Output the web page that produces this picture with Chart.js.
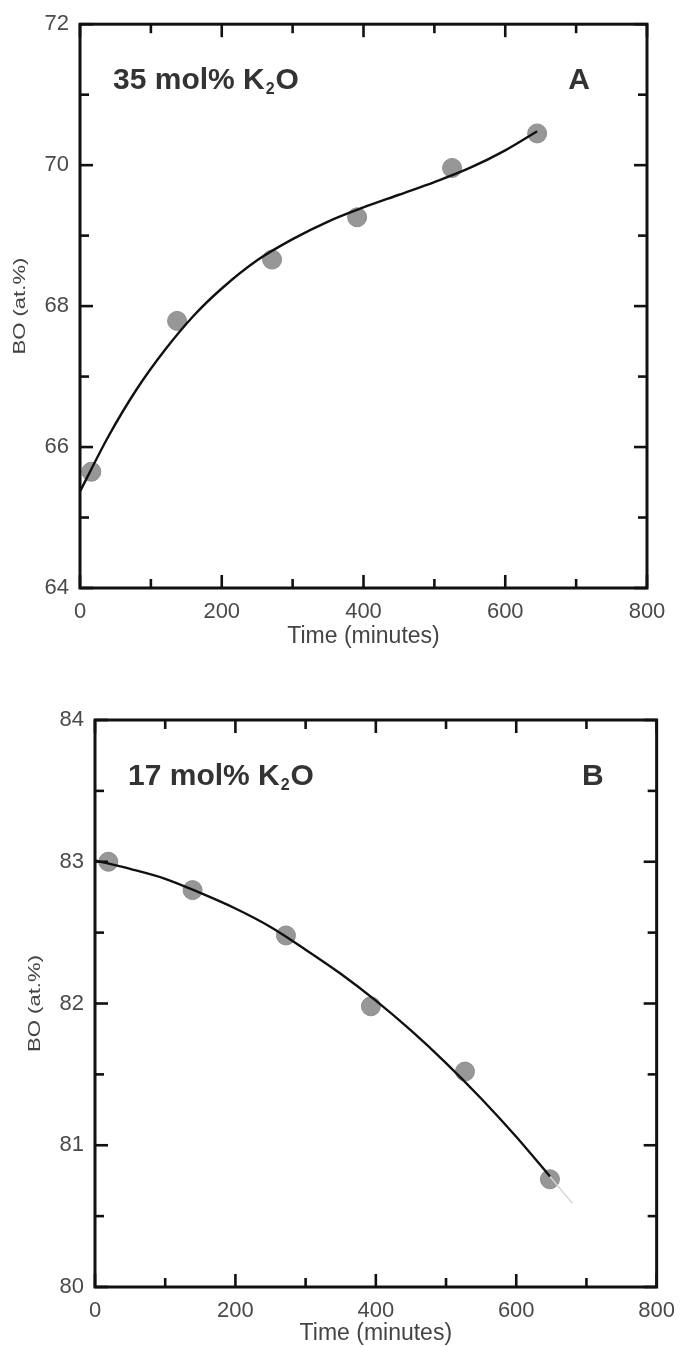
<!DOCTYPE html>
<html><head><meta charset="utf-8">
<script src="https://cdn.jsdelivr.net/npm/chart.js@4.4.1/dist/chart.umd.min.js"></script>
<style>
html,body{margin:0;padding:0;background:#fff;width:686px;height:1347px;overflow:hidden}
.box{position:absolute;left:0;width:686px}
</style></head><body>
<div class="box" style="top:0;height:660px"><canvas id="cA"></canvas></div>
<div class="box" style="top:690px;height:657px"><canvas id="cB"></canvas></div>
<script>
// ---- data ----
const timeTickLabels = [0, 200, 400, 600, 800];
const yTickLabelsA = [64, 66, 68, 70, 72];
const yTickLabelsB = [80, 81, 82, 83, 84];

const timeA = [16, 137, 271, 391, 525, 645];
const boA   = [65.65, 67.79, 68.66, 69.26, 69.96, 70.45];
const fitTimeA = [0, 40, 80, 120, 160, 200, 250, 300, 350, 400, 450, 500, 550, 600, 645];
const fitBoA   = [65.37, 66.15, 66.82, 67.38, 67.86, 68.25, 68.65, 68.95, 69.20, 69.40, 69.58, 69.76, 69.96, 70.21, 70.48];

const timeB = [19, 139, 272, 393, 527, 648];
const boB   = [83.00, 82.80, 82.48, 81.98, 81.52, 80.76];
const fitTimeB = [0, 50, 100, 150, 200, 250, 300, 350, 400, 450, 500, 550, 600, 648];
const fitBoB   = [83.01, 82.95, 82.88, 82.78, 82.67, 82.54, 82.38, 82.21, 82.02, 81.81, 81.58, 81.33, 81.06, 80.78];
const extTimeB = [648, 680];
const extBoB   = [80.78, 80.59];

const labelA = {main: '35 mol% K', sub: '2', tail: 'O', letter: 'A'};
const labelB = {main: '17 mol% K', sub: '2', tail: 'O', letter: 'B'};

const FONT = '"Liberation Sans", Arial, sans-serif';
const toXY = (xs, ys) => xs.map((v, i) => ({x: v, y: ys[i]}));

const framePlugin = {
  id: 'frame',
  afterDraw(chart, args, o) {
    const {ctx, chartArea: a, scales: {x, y}} = chart;
    ctx.save();
    ctx.strokeStyle = '#111';
    ctx.lineWidth = 2.6;
    const line = (x1, y1, x2, y2) => { ctx.beginPath(); ctx.moveTo(x1, y1); ctx.lineTo(x2, y2); ctx.stroke(); };
    const eps = 1e-6;
    for (let v = x.min; v <= x.max + eps; v += o.xMinor) {
      const px = x.getPixelForValue(v);
      const major = Math.abs(((v - x.min) / o.xMajor) - Math.round((v - x.min) / o.xMajor)) < eps;
      const L = major ? 13 : 9;
      line(px, a.bottom, px, a.bottom - L);
      line(px, a.top, px, a.top + L);
    }
    for (let v = y.min; v <= y.max + eps; v += o.yMinor) {
      const py = y.getPixelForValue(v);
      const major = Math.abs(((v - y.min) / o.yMajor) - Math.round((v - y.min) / o.yMajor)) < eps;
      const L = major ? 13 : 9;
      line(a.left, py, a.left + L, py);
      line(a.right, py, a.right - L, py);
    }
    ctx.lineWidth = 3;
    ctx.lineJoin = 'miter';
    ctx.strokeRect(a.left, a.top, a.right - a.left, a.bottom - a.top);

    // y axis title (stretched like the reference)
    ctx.save();
    ctx.translate(a.left - 60, (a.top + a.bottom) / 2);
    ctx.rotate(-Math.PI / 2);
    ctx.scale(1.3, 1);
    ctx.font = '17px ' + FONT;
    ctx.fillStyle = '#444';
    ctx.textAlign = 'center';
    ctx.textBaseline = 'middle';
    ctx.fillText('BO (at.%)', 0, 0);
    ctx.restore();

    // panel annotation
    const L = o.label;
    const base = a.top + 65;
    let tx = a.left + 33;
    ctx.fillStyle = '#333';
    ctx.textBaseline = 'alphabetic';
    ctx.textAlign = 'left';
    ctx.font = 'bold 30px ' + FONT;
    ctx.fillText(L.main, tx, base);
    tx += ctx.measureText(L.main).width + 1;
    ctx.font = 'bold 16px ' + FONT;
    ctx.fillText(L.sub, tx, base + 5);
    tx += ctx.measureText(L.sub).width + 1;
    ctx.font = 'bold 30px ' + FONT;
    ctx.fillText(L.tail, tx, base);
    ctx.textAlign = 'right';
    ctx.fillText(L.letter, a.right - o.letterRight, base);
    ctx.restore();
  }
};

function makeChart(id, cfg) {
  const datasets = [
    {label: 'data', data: toXY(cfg.t, cfg.v), showLine: false, pointRadius: 9.5, pointHoverRadius: 9.5,
     backgroundColor: '#979797', borderColor: '#8d8d8d', borderWidth: 1, order: 3},
    {label: 'fit', data: toXY(cfg.ft, cfg.fv), showLine: true, pointRadius: 0, borderColor: '#111',
     borderWidth: 2.4, cubicInterpolationMode: 'monotone', fill: false, order: 1}
  ];
  if (cfg.et) datasets.push({label: 'ext', data: toXY(cfg.et, cfg.ev), showLine: true, pointRadius: 0,
     borderColor: '#d4d4d4', borderWidth: 1.5, fill: false, order: 2});
  return new Chart(document.getElementById(id), {
    type: 'scatter',
    data: {datasets},
    options: {
      responsive: true, maintainAspectRatio: false, animation: false,
      layout: {padding: {left: 0, top: cfg.padTop, right: cfg.padRight, bottom: 0}},
      plugins: {legend: {display: false}, tooltip: {enabled: false},
        frame: {xMinor: 100, xMajor: 200, yMinor: cfg.yMinor, yMajor: cfg.yMajor, label: cfg.label, letterRight: cfg.letterRight}},
      scales: {
        x: {type: 'linear', min: timeTickLabels[0], max: timeTickLabels[timeTickLabels.length - 1],
          afterBuildTicks: s => { s.ticks = timeTickLabels.map(v => ({value: v})); },
          afterFit: s => { s.height = cfg.xHeight; },
          grid: {display: false, drawTicks: false}, border: {display: false},
          ticks: {padding: 11, color: '#4a4a4a', font: {family: FONT, size: 22}, maxRotation: 0, autoSkip: false},
          title: {display: true, text: 'Time (minutes)', color: '#444', font: {family: FONT, size: 23}, padding: {top: 0, bottom: cfg.titlePad}}},
        y: {type: 'linear', min: cfg.yTicks[0], max: cfg.yTicks[cfg.yTicks.length - 1],
          afterBuildTicks: s => { s.ticks = cfg.yTicks.map(v => ({value: v})); },
          afterFit: s => { s.width = cfg.yWidth; },
          grid: {display: false, drawTicks: false}, border: {display: false},
          ticks: {padding: 11, color: '#4a4a4a', font: {family: FONT, size: 22}, autoSkip: false}}
      }
    },
    plugins: [framePlugin]
  });
}

makeChart('cA', {t: timeA, v: boA, ft: fitTimeA, fv: fitBoA, yTicks: yTickLabelsA, yMinor: 1, yMajor: 2,
  padTop: 22, padRight: 39, xHeight: 72, yWidth: 80, titlePad: 10, label: labelA, letterRight: 57});
makeChart('cB', {t: timeB, v: boB, ft: fitTimeB, fv: fitBoB, et: extTimeB, ev: extBoB, yTicks: yTickLabelsB,
  yMinor: 0.5, yMajor: 1, padTop: 30, padRight: 24, xHeight: 60, yWidth: 95, titlePad: 0, label: labelB, letterRight: 53});
</script>
</body></html>
